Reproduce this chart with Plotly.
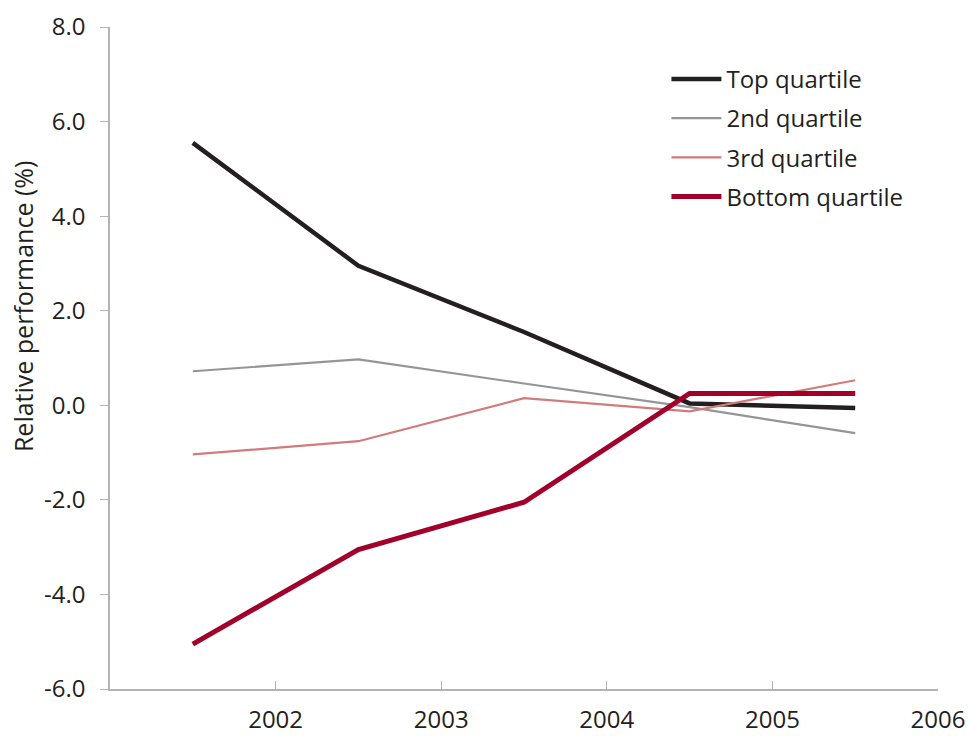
import plotly.graph_objects as go

years = [2001.5, 2002.5, 2003.5, 2004.5, 2005.5]
top_quartile = [5.55, 2.95, 1.55, 0.04, -0.06]
second_quartile = [0.72, 0.97, 0.46, -0.04, -0.59]
third_quartile = [-1.04, -0.76, 0.15, -0.13, 0.53]
bottom_quartile = [-5.05, -3.05, -2.05, 0.25, 0.25]

series_names = ["Top quartile", "2nd quartile", "3rd quartile", "Bottom quartile"]
series_values = [top_quartile, second_quartile, third_quartile, bottom_quartile]
series_colors = ["#231f20", "#939598", "#d27b7b", "#a0002a"]
series_widths = [4.5, 2.2, 2.2, 5]

x_tick_vals = [2002, 2003, 2004, 2005, 2006]
x_tick_text = ["2002", "2003", "2004", "2005", "2006"]
y_tick_vals = [-6, -4, -2, 0, 2, 4, 6, 8]
y_tick_text = ["-6.0", "-4.0", "-2.0", "0.0", "2.0", "4.0", "6.0", "8.0"]

FONT = "Open Sans, sans-serif"

fig = go.Figure()
for name, vals, col, w in zip(series_names, series_values, series_colors, series_widths):
    fig.add_trace(go.Scatter(x=years, y=vals, mode="lines", name=name,
                             legendgroup=name,
                             line=dict(color=col, width=w)))

axis_col = "#b3b3b3"
fig.update_layout(
    width=968, height=736,
    margin=dict(l=110, r=30, t=27, b=47),
    paper_bgcolor="white", plot_bgcolor="white",
    font=dict(family=FONT, size=24, color="#231f20"),
    showlegend=True,
    legend=dict(x=0.672, y=0.955, xanchor="left", yanchor="top",
                traceorder="grouped", tracegroupgap=5, itemwidth=50,
                font=dict(size=24), bgcolor="rgba(0,0,0,0)"),
    xaxis=dict(range=[2001, 2006], tickvals=x_tick_vals, ticktext=x_tick_text,
               showgrid=False, zeroline=False, showline=True, linecolor=axis_col,
               linewidth=1.5, ticks="inside", ticklen=8, tickcolor=axis_col,
               ticklabelstandoff=8, automargin=False, tickfont=dict(size=24)),
    yaxis=dict(range=[-6, 8], tickvals=y_tick_vals, ticktext=y_tick_text,
               showgrid=False, zeroline=False, showline=True, linecolor=axis_col,
               linewidth=1.5, ticks="outside", ticklen=8, tickcolor=axis_col,
               ticklabelstandoff=10, automargin=False, tickfont=dict(size=24)),
    annotations=[dict(text="Relative performance (%)", textangle=-90,
                      xref="paper", yref="paper", x=-0.105, y=0.577,
                      xanchor="center", yanchor="middle", showarrow=False,
                      font=dict(size=25))],
)

fig.write_html("out.html")
